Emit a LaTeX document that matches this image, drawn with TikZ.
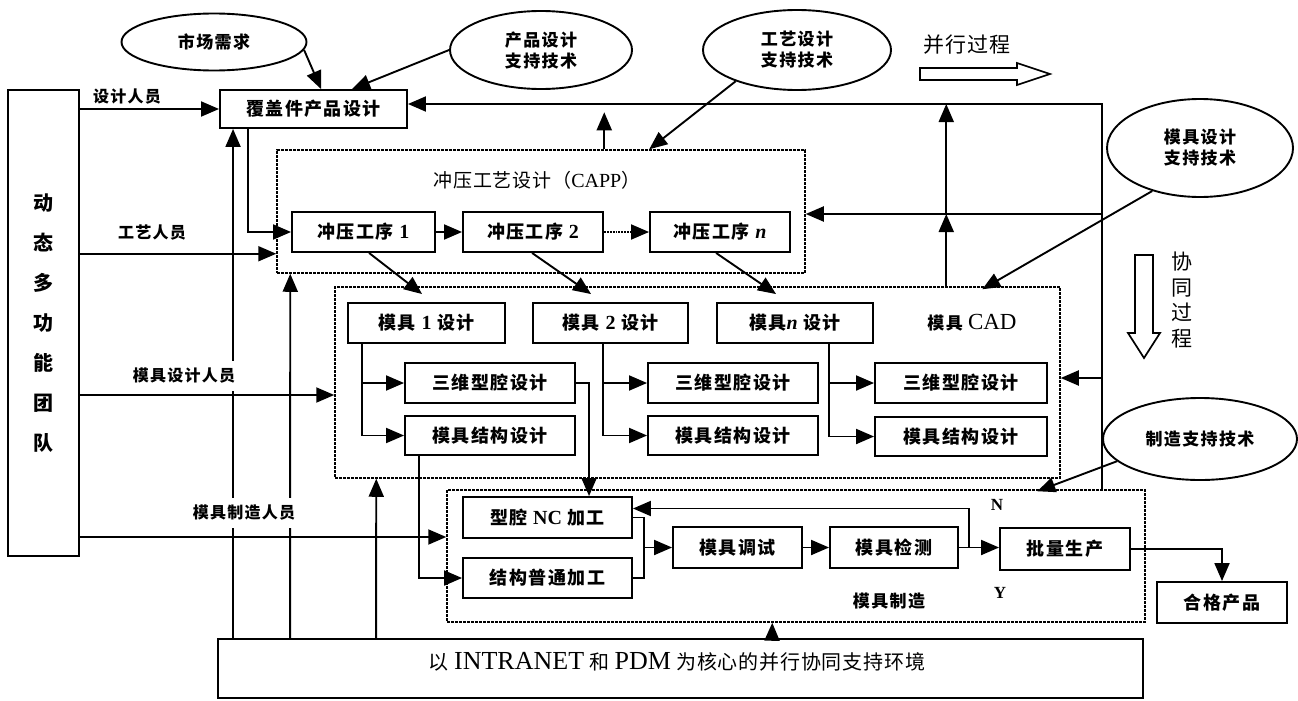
\documentclass[tikz,border=0pt]{standalone}
\usepackage{fontspec}
\setmainfont{Liberation Serif}
\newfontfamily\cjk{Noto Sans CJK SC}[LetterSpace=8]
\newfontfamily\cjkr{Noto Sans CJK SC}[LetterSpace=4]
\newcommand\latn[1]{{\rmfamily\fontsize{20}{20}\selectfont #1}}
\usetikzlibrary{arrows.meta,shapes.geometric,calc}
\tikzset{
  ln/.style={line width=1.9pt},
  arr/.style={ln,-{Triangle[length=18pt,width=15pt]}},
  box/.style={draw,ln,rectangle,inner sep=0pt,font=\cjk\bfseries\fontsize{18}{20}\selectfont},
  grp/.style={draw,line width=1.5pt,dash pattern=on 3pt off 1pt,inner sep=0pt},
  ell/.style={draw,ln,ellipse,inner sep=0pt,align=center,font=\cjk\bfseries\fontsize{17}{21}\selectfont},
  lbl/.style={inner sep=2pt,font=\cjk\bfseries\fontsize{16}{19}\selectfont},
  wlbl/.style={lbl,fill=white,inner ysep=7pt,inner xsep=4pt},
  reg/.style={inner sep=1pt,font=\cjkr\fontsize{19}{22}\selectfont},
}
\begin{document}
\begin{tikzpicture}[x=1pt,y=-1pt]
\useasboundingbox (0,0) rectangle (1298,701);

% group frames
\node[grp,minimum width=528pt,minimum height=123pt] (capp) at (541,211.5) {};
\node[grp,minimum width=725pt,minimum height=191pt] (cad) at (697.5,382.5) {};
\node[grp,minimum width=698pt,minimum height=132pt] (mfg) at (796,556) {};

% team and main boxes
\node[box,minimum width=71pt,minimum height=466pt,align=center,font=\cjk\bfseries\fontsize{20}{40}\selectfont] (team) at (43.5,323) {动\\态\\多\\功\\能\\团\\队};
\node[box,minimum width=187pt,minimum height=38pt] (cover) at (313.5,109) {覆盖件产品设计};

% ellipses
\node[ell,minimum width=185pt,minimum height=57pt] (mkt) at (214,42) {市场需求};
\node[ell,minimum width=182pt,minimum height=78pt] (pds) at (541,50) {产品设计\\支持技术};
\node[ell,minimum width=188pt,minimum height=80pt] (tds) at (797,50) {工艺设计\\支持技术};
\node[ell,minimum width=186pt,minimum height=98pt] (mds) at (1200,148) {模具设计\\支持技术};
\node[ell,minimum width=194pt,minimum height=82pt] (mfs) at (1200,439) {制造支持技术};

% CAPP
\node[box,minimum width=143pt,minimum height=40pt] (op1) at (363.5,232) {冲压工序 \latn{1}};
\node[box,minimum width=140pt,minimum height=40pt] (op2) at (533,232) {冲压工序 \latn{2}};
\node[box,minimum width=140pt,minimum height=40pt] (opn) at (720,232) {冲压工序 \latn{\itshape n}};

% CAD
\node[box,minimum width=157pt,minimum height=40pt] (m1) at (426.5,323) {模具 \latn{1} 设计};
\node[box,minimum width=155pt,minimum height=40pt] (m2) at (610.5,323) {模具 \latn{2} 设计};
\node[box,minimum width=156pt,minimum height=40pt] (mn) at (795,323) {模具\latn{\itshape n} 设计};
\node[box,minimum width=170pt,minimum height=40pt] (c1) at (490,383) {三维型腔设计};
\node[box,minimum width=170pt,minimum height=39pt] (s1) at (490,435.5) {模具结构设计};
\node[box,minimum width=170pt,minimum height=40pt] (c2) at (733,383) {三维型腔设计};
\node[box,minimum width=170pt,minimum height=39pt] (s2) at (733,435.5) {模具结构设计};
\node[box,minimum width=172pt,minimum height=40pt] (c3) at (961,383) {三维型腔设计};
\node[box,minimum width=172pt,minimum height=39pt] (s3) at (961,436.5) {模具结构设计};

% manufacturing
\node[box,minimum width=169pt,minimum height=41pt] (nc) at (547.5,517.5) {型腔 \latn{NC} 加工};
\node[box,minimum width=169pt,minimum height=40pt] (jg) at (547.5,578) {结构普通加工};
\node[box,minimum width=129pt,minimum height=41pt] (ts) at (737.5,547.5) {模具调试};
\node[box,minimum width=128pt,minimum height=41pt] (jc) at (894,547.5) {模具检测};
\node[box,minimum width=130pt,minimum height=42pt] (pl) at (1065,549) {批量生产};
\node[box,minimum width=130pt,minimum height=41pt] (hg) at (1222,602.5) {合格产品};

% support environment
\node[draw,ln,minimum width=925pt,minimum height=59pt,inner sep=0pt] (intr) at (680.5,668.5) {};

% ---- connectors ----
% from supports
\draw[arr] (mkt.-5) -- ($(cover.north west)+(102,0)$);
\draw[arr] (pds.west) -- ($(cover.north west)+(133,0)$);
\draw[arr] (tds.207) -- ($(capp.north west)+(373,0)$);
\draw[arr] (mds.222) -- ($(cad.north west)+(648,3)$);
\draw[arr] (mfs.195) -- ($(mfg.north west)+(591,2)$);

% team personnel
\draw[arr] (team.east |- cover.west) -- (cover.west);
\coordinate (capin) at ($(capp.south west)+(0,-20)$);
\draw[arr] (team.east |- capin) -- (capin);
\coordinate (cadin) at ($(cad.west)+(0,12.5)$);
\draw[arr] (team.east |- cadin) -- (cadin);
\coordinate (mfgin) at ($(mfg.west)+(0,-19)$);
\draw[arr] (team.east |- mfgin) -- (mfgin);

% product design to first stamping op
\draw[arr] ($(cover.south west)+(29,0)$) |- (op1.west);

% vertical supports from environment
\draw[arr] ($(intr.north west)+(16,0)$) -- ($(cover.south west)+(14,0)$);
\draw[arr] ($(intr.north west)+(73,0)$) -- ($(capp.south west)+(14,0)$);
\draw[arr] ($(intr.north west)+(159,0)$) -- ($(cad.south west)+(42,0)$);
\draw[arr] ($(intr.north west)+(555,0)$) -- ($(mfg.south west)+(326,0)$);

% stamping ops chain
\draw[arr] (op1) -- (op2);
\draw[arr,densely dotted] (op2) -- (opn);

% ops to mold designs
\draw[arr] ($(op1.south west)+(78,0)$) -- ($(m1.north west)+(75,-8)$);
\draw[arr] ($(op2.south west)+(70,0)$) -- ($(m2.north west)+(59,-8)$);
\draw[arr] ($(opn.south west)+(67,0)$) -- ($(mn.north west)+(60,-8)$);

% mold design columns
\coordinate (k1) at ($(m1.south west)+(15,0)$);
\draw[arr] (k1) |- (c1.west);
\draw[arr] (k1) |- (s1.west);
\coordinate (k2) at ($(m2.south west)+(71,0)$);
\draw[arr] (k2) |- (c2.west);
\draw[arr] (k2) |- (s2.west);
\coordinate (k3) at ($(mn.south west)+(113,0)$);
\draw[arr] (k3) |- (c3.west);
\draw[arr] (k3) |- (s3.west);

% design to machining
\draw[arr] (c1.east) -| ($(nc.north west)+(127,0)$);
\draw[arr] ($(s1.south west)+(15,0)$) |- (jg.west);

% machining chain
\coordinate (mrg) at ($(nc.east)+(11,0)$);
\draw[ln] (nc.east) -- (mrg) |- (jg.east);
\draw[arr] (mrg |- ts.west) -- (ts.west);
\draw[arr] (ts) -- (jc);
\draw[arr] (jc.east) -- (jc.east -| pl.west);
\draw[arr] ($(jc.east)+(10,0)$) |- ($(nc.east)+(0,-9)$);
\draw[arr] (pl.east) -| (hg.north);

% feedback column on the right
\coordinate (rc) at ($(mfg.north west)+(656,0)$);
\coordinate (rtop) at ($(cover.east)+(0,-5)$);
\draw[arr] (rc) |- (rtop);
\coordinate (rcapp) at ($(capp.east)+(0,2.5)$);
\draw[arr] (rc |- rcapp) -- (rcapp);
\coordinate (rcad) at ($(cad.east)+(0,-4.5)$);
\draw[arr] (rc |- rcad) -- (rcad);
\coordinate (u1) at ($(cad.north west)+(612,0)$);
\draw[arr] (u1) -- (u1 |- rcapp);
\draw[arr] (u1 |- rcapp) -- (u1 |- rtop);
\coordinate (u2) at ($(capp.north west)+(328,0)$);
\draw[arr] (u2) -- ($(u2)+(0,-37)$);

% hollow process arrows
\draw[line width=1.7pt,line join=miter] (920,68) -- (1017,68) -- (1017,63) -- (1050,74) -- (1017,85) -- (1017,80) -- (920,80) -- cycle;
\draw[line width=1.7pt,line join=miter] (1135,255) -- (1153,255) -- (1153,333) -- (1160,333) -- (1144,358) -- (1128,333) -- (1135,333) -- cycle;

% ---- labels ----
\node[lbl] (l1) at (127,97) {设计人员};
\node[lbl] (l2) at (152,233) {工艺人员};
\node[wlbl] (l3) at (184,376) {模具设计人员};
\node[wlbl] (l4) at (244,513) {模具制造人员};
\node[reg] (capt) at (537,180) {冲压工艺设计（{\rmfamily\fontsize{20}{22}\selectfont CAPP}）};
\node[lbl,font=\cjk\bfseries\fontsize{17}{20}\selectfont] (cadt) at (972,323) {模具 {\rmfamily\mdseries\fontsize{23}{24}\selectfont CAD}};
\node[lbl,font=\cjk\bfseries\fontsize{17}{20}\selectfont] (mfgt) at (889,601) {模具制造};
\node[lbl,font=\rmfamily\bfseries\fontsize{17}{20}\selectfont] (nl) at (997,505) {N};
\node[lbl,font=\rmfamily\bfseries\fontsize{17}{20}\selectfont] (yl) at (1000,593) {Y};
\node[reg,font=\cjkr\fontsize{21}{24}\selectfont] (bx) at (967,45) {并行过程};
\node[reg,align=center,font=\cjkr\fontsize{21}{25.5}\selectfont] (xt) at (1182,300) {协\\同\\过\\程};
\node[reg,font=\cjkr\fontsize{20}{24}\selectfont] (intrt) at (677,662) {以 {\rmfamily\fontsize{26}{26}\selectfont INTRANET} 和 {\rmfamily\fontsize{26}{26}\selectfont PDM} 为核心的并行协同支持环境};
\end{tikzpicture}
\end{document}
